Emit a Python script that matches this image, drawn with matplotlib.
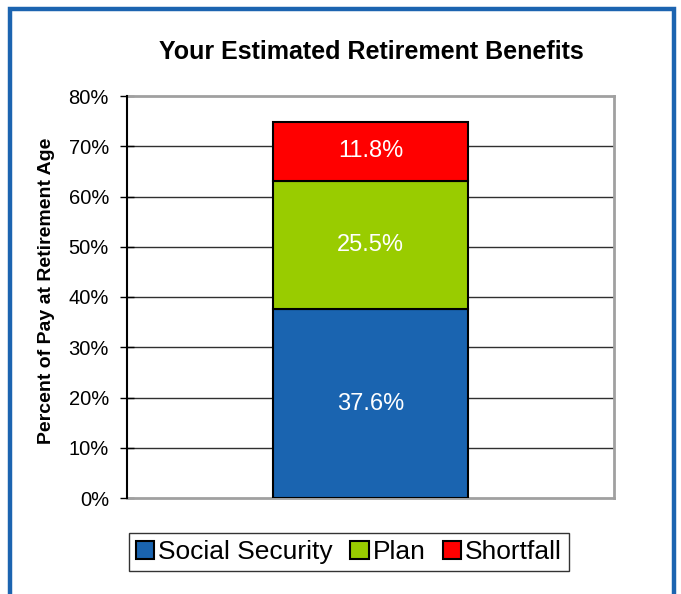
import matplotlib
matplotlib.use("Agg")
import matplotlib.pyplot as plt
from matplotlib.patches import Rectangle

# data
categories = ["Retirement"]
series_names = ["Social Security", "Plan", "Shortfall"]
series_values = [37.6, 25.5, 11.8]
series_colors = ["#1a64b0", "#99cc00", "#ff0000"]
y_ticks = [0, 10, 20, 30, 40, 50, 60, 70, 80]
tick_labels = [f"{t}%" for t in y_ticks]

plt.rcParams["font.family"] = ["Liberation Sans", "DejaVu Sans"]

fig = plt.figure(figsize=(6.81, 5.94), dpi=100)
W, H = 681, 594
ax = fig.add_axes([127 / W, 1 - 498 / H, (614 - 127) / W, (498 - 96) / H])

bottom = 0
handles = []
for name, val, col in zip(series_names, series_values, series_colors):
    b = ax.bar(0, val, width=0.4, bottom=bottom, color=col, edgecolor="black",
               linewidth=1.5, label=name, zorder=3)
    handles.append(b)
    ax.text(0, bottom + val / 2, f"{val:.1f}%", ha="center", va="center",
            color="white", fontsize=17, zorder=4)
    bottom += val

ax.set_xlim(-0.5, 0.5)
ax.set_ylim(0, 80)
ax.set_yticks(y_ticks)
ax.set_yticklabels(tick_labels, fontsize=14.5)
ax.set_xticks([])
ax.tick_params(axis="y", direction="inout", length=10, width=1, pad=8)

for y in y_ticks[1:-1]:
    ax.axhline(y, color="#303030", linewidth=1, zorder=1)

for side in ["top", "right", "bottom"]:
    ax.spines[side].set_color("#a0a0a0")
    ax.spines[side].set_linewidth(2)
ax.spines["left"].set_color("black")
ax.spines["left"].set_linewidth(1.5)
ax.spines["left"].set_zorder(5)

ax.set_ylabel("Percent of Pay at Retirement Age", fontsize=14, fontweight="bold")
ax.yaxis.set_label_coords((55 - 127) / 487, (498 - 291) / 402)
fig.text(371 / W, 1 - 52 / H, "Your Estimated Retirement Benefits",
         ha="center", va="center", fontsize=18, fontweight="bold")

leg = fig.legend(handles=handles, labels=series_names, loc="center",
                 bbox_to_anchor=(349 / W, 1 - 552 / H), ncol=3, fontsize=19,
                 frameon=True, fancybox=False, edgecolor="black",
                 handlelength=0.7, handleheight=0.7, handletextpad=0.15,
                 columnspacing=0.65, borderpad=0.25, borderaxespad=0)
leg.get_frame().set_linewidth(1)

# blue frame around the chart
fig.patches.append(Rectangle((10 / W, -0.05), (674 - 10) / W, 1.05 - 9 / H,
                             transform=fig.transFigure, fill=False,
                             edgecolor="#1c64b0", linewidth=3.2))

fig.savefig("out.png", dpi=100)
